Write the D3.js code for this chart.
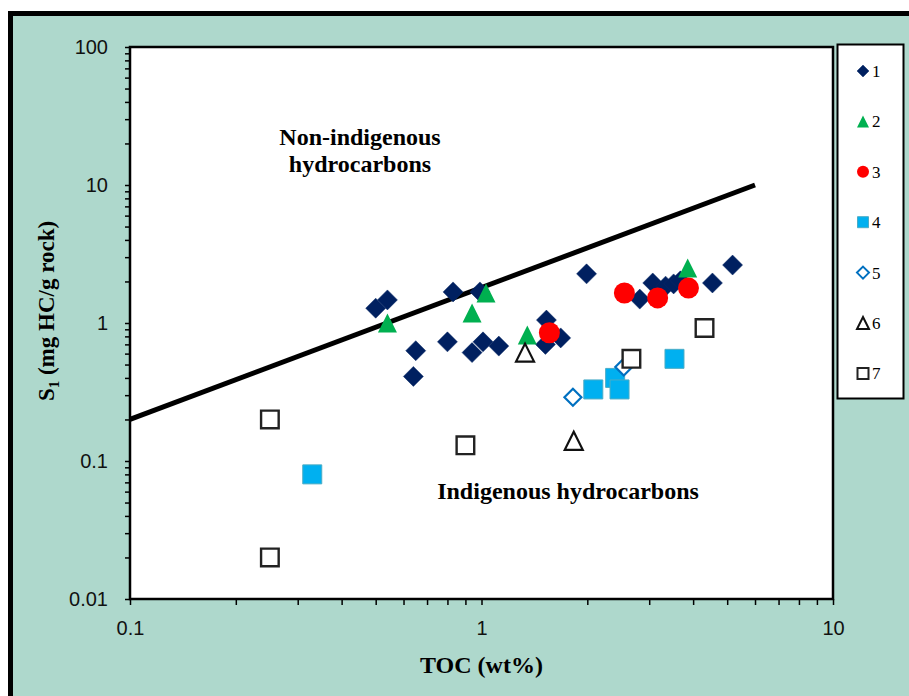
<!DOCTYPE html>
<html><head><meta charset="utf-8">
<script src="https://cdn.jsdelivr.net/npm/d3@7"></script>
<style>body{margin:0;background:#fff}svg{display:block}</style>
</head><body>
<svg id="c" width="909" height="696"></svg>
<script>
// ---- data ----
const seriesNames = ["1","2","3","4","5","6","7"];
const s1x = [0.50,0.54,0.83,0.99,0.65,0.64,0.80,1.01,0.94,1.12,1.99,1.53,1.68,1.52,2.82,3.07,3.34,3.52,3.68,4.54,5.18];
const s1y = [1.28,1.47,1.68,1.68,0.63,0.41,0.73,0.73,0.61,0.68,2.27,1.05,0.78,0.70,1.49,1.95,1.85,1.92,2.02,1.95,2.63];
const s2x = [0.54,0.94,1.03,1.35,3.86];
const s2y = [1.00,1.18,1.65,0.82,2.50];
const s3x = [1.56,2.55,3.17,3.88];
const s3y = [0.85,1.65,1.52,1.79];
const s4x = [0.33,2.08,2.40,2.47,3.54];
const s4y = [0.08,0.33,0.40,0.33,0.55];
const s5x = [1.82,2.54];
const s5y = [0.29,0.48];
const s6x = [1.33,1.83];
const s6y = [0.61,0.14];
const s7x = [0.25,0.25,0.90,2.67,4.31];
const s7y = [0.20,0.02,0.13,0.55,0.92];
const lineX = [0.1, 6.0];
const lineY = [0.2, 10.0];
const xTickLabels = ["0.1","1","10"];
const yTickLabels = ["0.01","0.1","1","10","100"];

// ---- drawing ----
const svg = d3.select("#c");
const teal = "#AED8CC";
svg.append("rect").attr("x",10.5).attr("y",13.5).attr("width",920).attr("height",720)
  .attr("fill",teal).attr("stroke","#000").attr("stroke-width",5);

const L=130,R=833,T=47,B=599;
const x = d3.scaleLog().domain([0.1,10]).range([L,R]);
const y = d3.scaleLog().domain([0.01,100]).range([B,T]);

svg.append("rect").attr("x",L).attr("y",T).attr("width",R-L).attr("height",B-T).attr("fill","#fff");

function logTicks(lo,hi){const t=[];for(let e=lo;e<hi;e++){for(let k=1;k<10;k++)t.push(k*Math.pow(10,e));}t.push(Math.pow(10,hi));return t;}
const isMajor = v => Math.abs(Math.log10(v)-Math.round(Math.log10(v)))<1e-9;
const fmt = (labels, lo) => v => isMajor(v) ? labels[Math.round(Math.log10(v))-lo] : "";

const yAxis = svg.append("g").attr("transform",`translate(${L},0)`)
  .call(d3.axisLeft(y).tickValues(logTicks(-2,2)).tickSize(5).tickPadding(17).tickFormat(fmt(yTickLabels,-2)));
const xAxis = svg.append("g").attr("transform",`translate(0,${B})`)
  .call(d3.axisBottom(x).tickValues(logTicks(-1,1)).tickSize(6).tickPadding(16).tickFormat(fmt(xTickLabels,-1)));
[yAxis,xAxis].forEach(a=>{
  a.select(".domain").remove();
  a.selectAll(".tick line").attr("stroke","#000").attr("stroke-width",1.5);
  a.selectAll("text").attr("font-family","Liberation Sans, Arial, sans-serif").attr("font-size",20).attr("fill","#111");
});

// threshold line
svg.append("line").attr("x1",x(lineX[0])).attr("y1",y(lineY[0])).attr("x2",x(lineX[1])).attr("y2",y(lineY[1]))
  .attr("stroke","#000").attr("stroke-width",5);

// marker shapes
function shape(type, s){
  switch(type){
    case "diamond": return `M0,${-s}L${s},0L0,${s}L${-s},0Z`;
    case "triangle": return `M0,${-s}L${s},${s}L${-s},${s}Z`;
    case "square": return `M${-s},${-s}H${s}V${s}H${-s}Z`;
    case "circle": return `M${-s},0A${s},${s} 0 1,0 ${s},0A${s},${s} 0 1,0 ${-s},0Z`;
  }
}
const styles = [
  {xs:s1x,ys:s1y,type:"diamond",size:10,fill:"#002060",stroke:"#0b2a66",sw:0.5},
  {xs:s2x,ys:s2y,type:"triangle",size:9.5,fill:"#00B050",stroke:"none",sw:0},
  {xs:s3x,ys:s3y,type:"circle",size:10.5,fill:"#FF0000",stroke:"none",sw:0},
  {xs:s4x,ys:s4y,type:"square",size:9.5,fill:"#00B0F0",stroke:"#4AACC6",sw:1},
  {xs:s5x,ys:s5y,type:"diamond",size:8.5,fill:"#fff",stroke:"#0070C0",sw:2.2},
  {xs:s6x,ys:s6y,type:"triangle",size:9,fill:"#fff",stroke:"#111",sw:2.2},
  {xs:s7x,ys:s7y,type:"square",size:8.8,fill:"#fff",stroke:"#222",sw:2.4}
];
styles.forEach(st=>{
  svg.append("g").selectAll("path").data(st.xs.map((v,i)=>[v,st.ys[i]])).join("path")
    .attr("transform",d=>`translate(${x(d[0])},${y(d[1])})`)
    .attr("d",shape(st.type,st.size)).attr("fill",st.fill).attr("stroke",st.stroke).attr("stroke-width",st.sw);
});

// plot border
svg.append("rect").attr("x",L).attr("y",T).attr("width",R-L).attr("height",B-T)
  .attr("fill","none").attr("stroke","#000").attr("stroke-width",2.5);

// annotations
const serif = "Liberation Serif, Times New Roman, serif";
const ann = svg.append("g").attr("font-family",serif).attr("font-weight","bold").attr("font-size",24).attr("text-anchor","middle").attr("fill","#000");
ann.append("text").attr("x",360).attr("y",145).text("Non-indigenous");
ann.append("text").attr("x",360).attr("y",172).text("hydrocarbons");
ann.append("text").attr("x",568).attr("y",499).text("Indigenous hydrocarbons");

// axis titles
svg.append("text").attr("x",(L+R)/2).attr("y",673).attr("text-anchor","middle")
  .attr("font-family",serif).attr("font-weight","bold").attr("font-size",24).text("TOC (wt%)");
const yt = svg.append("text").attr("transform","translate(54,311) rotate(-90)").attr("text-anchor","middle")
  .attr("font-family",serif).attr("font-weight","bold").attr("font-size",23);
yt.append("tspan").text("S");
yt.append("tspan").attr("font-size",15).attr("dy",5).text("1");
yt.append("tspan").attr("dy",-5).text(" (mg HC/g rock)");

// legend
svg.append("rect").attr("x",837.5).attr("y",44.5).attr("width",66).attr("height",354)
  .attr("fill","#fff").attr("stroke","#000").attr("stroke-width",2);
const lg = svg.append("g");
styles.forEach((st,i)=>{
  const yy = 71 + i*50.4;
  lg.append("path").attr("transform",`translate(863,${yy})`).attr("d",shape(st.type, st.type==="circle"?6:st.type==="square"?5.5:6))
    .attr("fill",st.fill).attr("stroke",st.stroke).attr("stroke-width",st.sw? Math.min(st.sw,2):0);
  lg.append("text").attr("x",872).attr("y",yy+6).attr("font-family",serif).attr("font-size",17).text(seriesNames[i]);
});
</script>
</body></html>
